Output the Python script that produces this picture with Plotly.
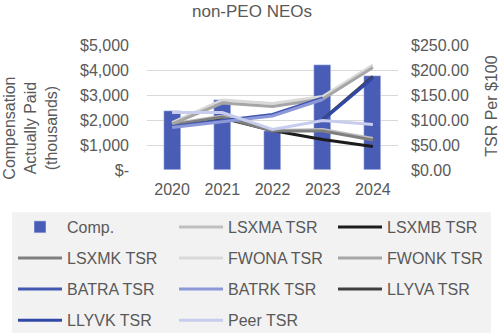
import plotly.graph_objects as go

years = ["2020", "2021", "2022", "2023", "2024"]
comp = [2350, 2790, 1550, 4190, 3780]

lsxma = [92, 108, 79, 81, 63]
lsxmb = [89, 104, 79, 61, 47]
lsxmk = [90, 106, 78, 78, 60]
fwona = [95, 140, 133, 147, 210]
fwonk = [92, 134, 127, 142, 205]
batra = [87, 99, 111, 144, None]
batrk = [85, 96, 108, 141, None]
llyva = [None, None, None, 101, 187]
llyvk = [None, None, None, 100, 184]
peer = [115, 115, 81, 99, 91]

left_ticks = [0, 1000, 2000, 3000, 4000, 5000]
left_text = ["$-", "$1,000", "$2,000", "$3,000", "$4,000", "$5,000"]
right_ticks = [0, 50, 100, 150, 200, 250]
right_text = ["$0.00", "$50.00", "$100.00", "$150.00", "$200.00", "$250.00"]

FONT = "Liberation Sans, Arial, sans-serif"
GREY = "#595959"

series = [
    ("LSXMA TSR", lsxma, "#bfbfbf", "legend2"),
    ("LSXMB TSR", lsxmb, "#1c1c1c", "legend3"),
    ("LSXMK TSR", lsxmk, "#7f7f7f", "legend"),
    ("FWONA TSR", fwona, "#d9d9d9", "legend2"),
    ("FWONK TSR", fwonk, "#a6a6a6", "legend3"),
    ("BATRA TSR", batra, "#4157b2", "legend"),
    ("BATRK TSR", batrk, "#8d98d8", "legend2"),
    ("LLYVA TSR", llyva, "#404040", "legend3"),
    ("LLYVK TSR", llyvk, "#3048a8", "legend"),
    ("Peer TSR", peer, "#c8cdee", "legend2"),
]

fig = go.Figure()
fig.add_trace(go.Bar(x=years, y=comp, name="Comp.", marker_color="#4a5db6",
                     width=0.34, legend="legend", legendgroup="g0"))
for i, (name, vals, color, lg) in enumerate(series):
    fig.add_trace(go.Scatter(x=years, y=vals, name=name, mode="lines",
                             line=dict(color=color, width=3), yaxis="y2",
                             legend=lg, legendgroup=f"g{i+1}"))

W, H = 504, 334
L, R, T, B = 147, 398, 45, 170.5
pw, ph = R - L, B - T
def px(X): return (X - L) / pw
def py(Y): return (B - Y) / ph
def cx(X): return X / W
def cy(Y): return 1 - Y / H

leg_common = dict(orientation="v", bgcolor="rgba(0,0,0,0)", font=dict(family=FONT, size=16, color=GREY),
                  itemwidth=44, tracegroupgap=7.3, xanchor="left", yanchor="top", itemclick=False,
                  xref="container", yref="container")

fig.update_layout(
    width=W, height=H,
    margin=dict(l=L, r=W - R, t=T, b=H - B, autoexpand=False),
    paper_bgcolor="white", plot_bgcolor="white",
    font=dict(family=FONT, size=16, color=GREY),
    title=dict(text="non-PEO NEOs", x=0.5, xanchor="center", y=1 - 11 / H, yanchor="middle",
               font=dict(family=FONT, size=17, color=GREY)),
    bargap=0,
    xaxis=dict(type="category", range=[-0.5, 4.5], showgrid=False, showline=False, ticks="",
               tickfont=dict(size=16, color=GREY), ticklabelstandoff=8),
    yaxis=dict(range=[0, 5000], tickvals=left_ticks, ticktext=left_text, showgrid=True,
               gridcolor="#d9d9d9", gridwidth=1, zeroline=False, showline=False, ticks="",
               tickfont=dict(size=16, color=GREY), ticklabelstandoff=17),
    yaxis2=dict(range=[0, 250], tickvals=right_ticks, ticktext=right_text, overlaying="y", side="right",
                showgrid=False, zeroline=False, showline=False, ticks="",
                tickfont=dict(size=16, color=GREY), ticklabelstandoff=12),
    legend=dict(x=cx(13), y=cy(210), **leg_common),
    legend2=dict(x=cx(174), y=cy(210), **leg_common),
    legend3=dict(x=cx(333), y=cy(210), **leg_common),
    shapes=[dict(type="rect", xref="paper", yref="paper", x0=px(12), x1=px(491), y0=py(334), y1=py(213),
                 fillcolor="#f2f2f2", line=dict(width=0), layer="below")],
    annotations=[
        dict(text="Compensation<br>Actually Paid<br>(thousands)", xref="paper", yref="paper",
             x=px(31), y=py(129), xanchor="center", yanchor="middle", textangle=-90, showarrow=False,
             font=dict(family=FONT, size=16, color=GREY)),
        dict(text="TSR Per $100", xref="paper", yref="paper", x=px(492), y=py(107),
             xanchor="center", yanchor="middle", textangle=-90, showarrow=False,
             font=dict(family=FONT, size=16, color=GREY)),
    ],
)

fig.write_html("out.html")
